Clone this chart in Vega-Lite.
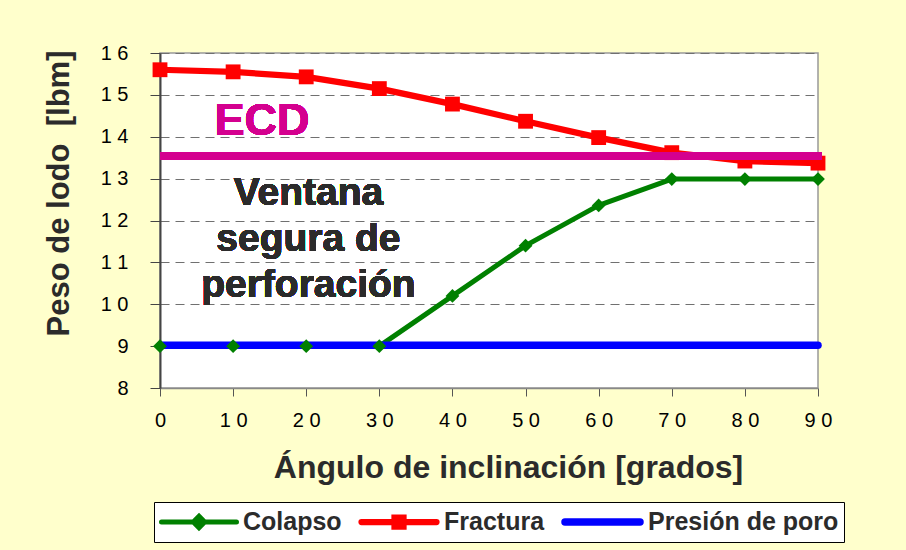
{
  "$schema": "https://vega.github.io/schema/vega-lite/v6.json",
  "width": 658,
  "height": 335,
  "autosize": {"type": "none"},
  "padding": {"left": 160, "top": 53, "right": 88, "bottom": 162},
  "background": "#FFFFCC",
  "config": {
    "view": {"fill": "white", "stroke": "#999999", "strokeWidth": 1.5},
    "font": "Liberation Sans"
  },
  "data": {
    "values": [
      {"serie": "Colapso", "angulo": 0, "peso": 9.0},
      {"serie": "Colapso", "angulo": 10, "peso": 9.0},
      {"serie": "Colapso", "angulo": 20, "peso": 9.0},
      {"serie": "Colapso", "angulo": 30, "peso": 9.0},
      {"serie": "Colapso", "angulo": 40, "peso": 10.2},
      {"serie": "Colapso", "angulo": 50, "peso": 11.4},
      {"serie": "Colapso", "angulo": 60, "peso": 12.36},
      {"serie": "Colapso", "angulo": 70, "peso": 12.99},
      {"serie": "Colapso", "angulo": 80, "peso": 12.99},
      {"serie": "Colapso", "angulo": 90, "peso": 12.99},
      {"serie": "Fractura", "angulo": 0, "peso": 15.6},
      {"serie": "Fractura", "angulo": 10, "peso": 15.55},
      {"serie": "Fractura", "angulo": 20, "peso": 15.43},
      {"serie": "Fractura", "angulo": 30, "peso": 15.15},
      {"serie": "Fractura", "angulo": 40, "peso": 14.78},
      {"serie": "Fractura", "angulo": 50, "peso": 14.37},
      {"serie": "Fractura", "angulo": 60, "peso": 13.98},
      {"serie": "Fractura", "angulo": 70, "peso": 13.62},
      {"serie": "Fractura", "angulo": 80, "peso": 13.42},
      {"serie": "Fractura", "angulo": 90, "peso": 13.37},
      {"serie": "Presión de poro", "angulo": 0, "peso": 9.02},
      {"serie": "Presión de poro", "angulo": 90, "peso": 9.02}
    ]
  },
  "encoding": {
    "x": {
      "field": "angulo",
      "type": "quantitative",
      "scale": {"domain": [0, 90], "nice": false, "zero": false},
      "axis": {
        "values": [0, 10, 20, 30, 40, 50, 60, 70, 80, 90],
        "grid": false,
        "domainColor": "#888888",
        "domainWidth": 1.5,
        "tickColor": "#555555",
        "tickSize": 8,
        "labelFont": "Liberation Sans",
        "labelFontSize": 20,
        "labelColor": "#000000",
        "labelPadding": 14,
        "labelFlush": false,
        "labelOverlap": false,
        "labelExpr": "join(split(datum.label, ''), ' ')",
        "title": "Ángulo de inclinación [grados]",
        "titleFont": "Liberation Sans",
        "titleFontWeight": "bold",
        "titleFontSize": 32,
        "titleColor": "#2b2b2b",
        "titleX": 348,
        "titleY": 89,
        "titleBaseline": "alphabetic",
        "titleAlign": "center"
      }
    },
    "y": {
      "field": "peso",
      "type": "quantitative",
      "scale": {"domain": [8, 16], "nice": false, "zero": false},
      "axis": {
        "values": [8, 9, 10, 11, 12, 13, 14, 15, 16],
        "grid": true,
        "gridColor": "#707070",
        "gridDash": [9, 6],
        "gridWidth": 1.2,
        "domainColor": "#444444",
        "domainWidth": 2,
        "tickColor": "#444444",
        "tickSize": 10,
        "labelFont": "Liberation Sans",
        "labelFontSize": 20,
        "labelColor": "#000000",
        "labelPadding": 22,
        "labelFlush": false,
        "labelExpr": "join(split(datum.label, ''), ' ')",
        "title": "Peso de lodo \u00a0[lbm]",
        "titleFont": "Liberation Sans",
        "titleFontWeight": "bold",
        "titleFontSize": 31,
        "titleColor": "#2b2b2b",
        "titleAngle": -90,
        "titleX": -101,
        "titleY": 140,
        "titleBaseline": "middle",
        "titleAlign": "center"
      }
    }
  },
  "layer": [
    {
      "mark": {"type": "line", "strokeCap": "round", "strokeJoin": "round"},
      "encoding": {
        "color": {
          "field": "serie",
          "type": "nominal",
          "scale": {"domain": ["Colapso", "Fractura", "Presión de poro"], "range": ["#008000", "#FF0000", "#0000FF"]},
          "legend": {
            "title": null,
            "orient": "none",
            "direction": "horizontal",
            "legendX": -6,
            "legendY": 449,
            "fillColor": "white",
            "strokeColor": "#000000",
            "padding": 5,
            "columnPadding": 16,
            "clipHeight": 30,
            "symbolSize": 5625,
            "labelFont": "Liberation Sans",
            "labelFontWeight": "bold",
            "labelFontSize": 25,
            "labelColor": "#2b2b2b",
            "labelOffset": 4,
            "labelLimit": 400,
            "encode": {
              "symbols": {
                "update": {
                  "shape": {"signal": "datum.value === 'Colapso' ? 'M-1,0H1M0,-0.15L0.15,0L0,0.15L-0.15,0Z' : (datum.value === 'Fractura' ? 'M-1,0H1M-0.12,-0.12H0.12V0.12H-0.12Z' : 'M-1,0H1')"},
                  "fill": {"scale": "color", "field": "value"},
                  "stroke": {"scale": "color", "field": "value"},
                  "strokeWidth": {"signal": "datum.value === 'Colapso' ? 5 : 7"},
                  "strokeCap": {"value": "round"},
                  "opacity": {"value": 1}
                }
              }
            }
          }
        },
        "strokeWidth": {
          "field": "serie",
          "type": "nominal",
          "scale": {"domain": ["Colapso", "Fractura", "Presión de poro"], "range": [5, 7.5, 7]},
          "legend": null
        }
      }
    },
    {
      "transform": [{"filter": "datum.serie !== 'Presión de poro'"}],
      "mark": {"type": "point", "filled": true, "opacity": 1},
      "encoding": {
        "color": {"field": "serie", "type": "nominal", "legend": null},
        "shape": {
          "field": "serie",
          "type": "nominal",
          "scale": {"domain": ["Colapso", "Fractura"], "range": ["diamond", "square"]},
          "legend": null
        },
        "size": {
          "field": "serie",
          "type": "nominal",
          "scale": {"domain": ["Colapso", "Fractura"], "range": [190, 220]},
          "legend": null
        }
      }
    },
    {
      "mark": {"type": "rule", "color": "#D4008F", "strokeWidth": 7},
      "encoding": {"y": {"datum": 13.54}, "x": {"datum": 0}, "x2": {"datum": 90.5}}
    },
    {
      "mark": {"type": "text", "font": "Liberation Sans", "fontWeight": "bold", "fontSize": 45, "color": "#D4008F", "align": "center", "baseline": "alphabetic"},
      "encoding": {"x": {"datum": 13.95}, "y": {"datum": 14.04}, "text": {"value": "ECD"}}
    },
    {
      "mark": {"type": "text", "font": "Liberation Sans", "fontWeight": "bold", "fontSize": 39, "color": "#2b2b2b", "align": "center", "baseline": "alphabetic", "lineHeight": 46},
      "encoding": {"x": {"datum": 20.3}, "y": {"datum": 12.37}, "text": {"value": ["Ventana", "segura de", "perforación"]}}
    }
  ]
}
